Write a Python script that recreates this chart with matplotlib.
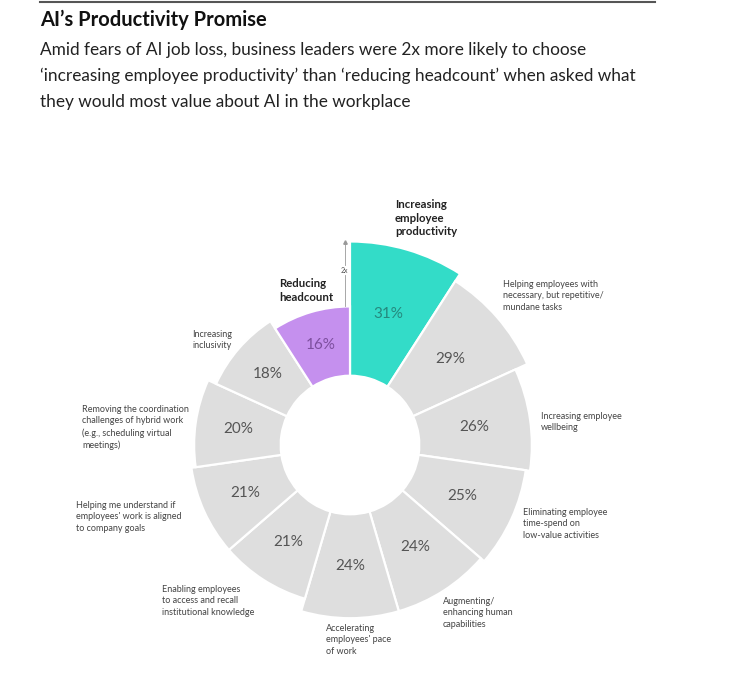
import numpy as np
import matplotlib.pyplot as plt

plt.rcParams['font.family'] = ['Lato', 'DejaVu Sans']

# data, clockwise from 12 o'clock
categories = [
    'Increasing\nemployee\nproductivity',
    'Helping employees with\nnecessary, but repetitive/\nmundane tasks',
    'Increasing employee\nwellbeing',
    'Eliminating employee\ntime-spend on\nlow-value activities',
    'Augmenting/\nenhancing human\ncapabilities',
    "Accelerating\nemployees' pace\nof work",
    'Enabling employees\nto access and recall\ninstitutional knowledge',
    "Helping me understand if\nemployees' work is aligned\nto company goals",
    'Removing the coordination\nchallenges of hybrid work\n(e.g., scheduling virtual\nmeetings)',
    'Increasing\ninclusivity',
    'Reducing\nheadcount',
]
values = [31, 29, 26, 25, 24, 24, 21, 21, 20, 18, 16]

# label anchor spots (pixels, top-left of text block)
label_xy = [(395, 199), (503, 280), (541, 412), (523, 508), (443, 597),
            (326, 624), (162, 585), (76, 501), (82, 405), (192, 330), (279, 278)]

GREY = '#dedede'
TEAL = '#33dcc8'
PURPLE = '#c590ee'
colors = [TEAL] + [GREY] * 9 + [PURPLE]
pct_colors = ['#25897e'] + ['#555555'] * 9 + ['#7d4f9e']

W, H = 750, 697
fig = plt.figure(figsize=(W / 100, H / 100), dpi=100)

def px(x, y):
    return x / W, 1 - y / H

# polar axes, centre of the ring at (350, 445) px, 4.33 px per unit
hole = 16
rmax = 50
scale = 4.33
cx, cy = 350, 445
R = rmax * scale
ax = fig.add_axes([(cx - R) / W, (H - cy - R) / H, 2 * R / W, 2 * R / H], projection='polar')
ax.set_theta_zero_location('N')
ax.set_theta_direction(-1)
ax.set_ylim(0, rmax)
ax.axis('off')

n = len(values)
width = 2 * np.pi / n
theta = np.arange(n) * width
ax.bar(theta, values, width=width, bottom=hole, align='edge',
       color=colors, edgecolor='white', linewidth=1.6)

for i, v in enumerate(values):
    ax.text(theta[i] + width / 2, hole + v / 2, f'{v}%', ha='center', va='center',
            fontsize=11, color=pct_colors[i])

for i, lab in enumerate(categories):
    bold = i in (0, n - 1)
    fig.text(*px(*label_xy[i]), lab, ha='left', va='top',
             fontsize=8.2 if bold else 6.5,
             fontweight='bold' if bold else 'normal',
             color='#222222' if bold else '#444444',
             linespacing=1.3 if bold else 1.35)

# 2x marker between the two highlighted bars
x2 = 345
top_y = cy - (hole + values[0]) * scale
bot_y = cy - (hole + values[-1]) * scale
fig.add_artist(plt.Line2D([x2 / W, x2 / W], [1 - (top_y + 2) / H, 1 - 265 / H],
                          color='#999999', lw=0.6))
fig.add_artist(plt.Line2D([x2 / W, x2 / W], [1 - 275 / H, 1 - bot_y / H],
                          color='#999999', lw=0.6))
fig.text(*px(x2 - 1, 270), '2x', fontsize=5, color='#555555', ha='center', va='center')
fig.add_artist(plt.Line2D([x2 / W], [1 - (top_y + 1) / H], marker='^', markersize=2.5,
                          color='#999999', linestyle='none'))

# header
fig.add_artist(plt.Line2D([40 / W, 655 / W], [1 - 2 / H, 1 - 2 / H], color='#555555', lw=1.5))
fig.text(*px(40, 20), "AI\u2019s Productivity Promise", fontsize=14.5, fontweight='bold',
         color='#111111', ha='left', va='center')
subtitle = [
    'Amid fears of AI job loss, business leaders were 2x more likely to choose',
    '\u2018increasing employee productivity\u2019 than \u2018reducing headcount\u2019 when asked what',
    'they would most value about AI in the workplace',
]
for k, line in enumerate(subtitle):
    fig.text(*px(40, 50 + 26 * k), line, fontsize=12.4, color='#222222', ha='left', va='center')

fig.savefig('out.png', dpi=100)
